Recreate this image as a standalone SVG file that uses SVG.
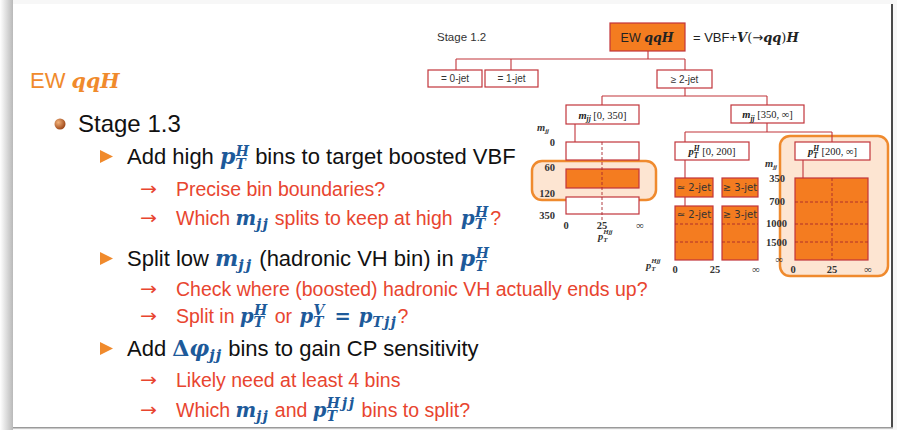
<svg xmlns="http://www.w3.org/2000/svg" width="897" height="430" viewBox="0 0 897 430">
<defs>
<linearGradient id="shadowL" x1="0" y1="0" x2="1" y2="0">
<stop offset="0" stop-color="#ffffff"/>
<stop offset="1" stop-color="#b9b9b9"/>
</linearGradient>
<radialGradient id="ball" cx="0.35" cy="0.35" r="0.7">
<stop offset="0" stop-color="#f3b27a"/>
<stop offset="1" stop-color="#9a4314"/>
</radialGradient>
<style>
.sans{font-family:"Liberation Sans",Arial,sans-serif}
.m{font-family:"DejaVu Serif",serif;font-style:italic;font-weight:bold;fill:#1d5a9a}
.mu{font-family:"DejaVu Serif",serif;font-weight:bold;fill:#1d5a9a}
.ar{font-family:"DejaVu Sans",sans-serif}
.red{fill:#e8452f}
.blk{fill:#111}
.box{fill:#ffffff;stroke:#c2353b;stroke-width:1.2}
.obox{fill:#f47c20;stroke:#c2353b;stroke-width:1.2}
.hl{fill:#fde5d2;stroke:#ef8a2e;stroke-width:2.5}
.conn{stroke:#c2353b;stroke-width:1.1;fill:none}
.dash{stroke:#a8282c;stroke-width:0.9;stroke-dasharray:3 2;fill:none}
.lbl{font-family:"Liberation Serif","Times New Roman",serif;font-size:10.5px;font-weight:bold;fill:#333}
.bt{font-family:"Liberation Sans",Arial,sans-serif;font-size:10px;fill:#333;text-anchor:middle}
.bs{font-family:"DejaVu Sans",sans-serif}
.bm{font-family:"Liberation Serif","Times New Roman",serif;font-size:10.5px;fill:#222;text-anchor:middle}
.bi{font-style:italic;font-weight:bold}
.dm{font-family:"DejaVu Serif",serif;font-style:italic;font-weight:bold}
.tri{fill:#f08a2c}
</style>
</defs>
<rect x="0" y="0" width="897" height="430" fill="#f7f7f7"/>
<rect x="0" y="0" width="13" height="430" fill="url(#shadowL)"/>
<rect x="13" y="4" width="878" height="424" fill="#ffffff"/>
<rect x="891" y="4" width="2" height="424" fill="#4a4a4a"/>
<rect x="13" y="427" width="880" height="1.5" fill="#9a9a9a"/>

<!-- Left slide text -->
<g id="title">
<text x="30" y="88" class="sans" font-size="22" fill="#f08a2c">EW <tspan class="m" font-size="20.5" style="fill:#f08a2c">qqH</tspan></text>
</g>
<g id="bullet-stage13">
<circle cx="60" cy="124" r="5.5" fill="url(#ball)"/>
<text x="78" y="132" class="sans blk" font-size="24">Stage 1.3</text>
</g>
<g id="item1">
<polygon class="tri" points="100,150 113,156.5 100,163"/>
<text x="127" y="164" class="sans blk" font-size="22">Add high <tspan class="m">p</tspan><tspan class="m" font-size="14" dy="5">T</tspan><tspan class="m" font-size="14" dx="-10" dy="-13">H</tspan><tspan dy="8"> bins to target boosted VBF</tspan></text>
<text x="140" y="195" class="ar red" font-size="18" textLength="17" lengthAdjust="spacingAndGlyphs">→</text>
<text x="176" y="196" class="sans red" font-size="19.5">Precise bin boundaries?</text>
<text x="140" y="224" class="ar red" font-size="18" textLength="17" lengthAdjust="spacingAndGlyphs">→</text>
<text x="176" y="225" class="sans red" font-size="19.5">Which <tspan class="m">m</tspan><tspan class="m" font-size="14" dy="4" letter-spacing="1.5">jj</tspan><tspan dy="-4"> splits to keep at high </tspan><tspan class="m" dx="3">p</tspan><tspan class="m" font-size="14" dy="4">T</tspan><tspan class="m" font-size="14" dx="-10" dy="-12">H</tspan><tspan dy="8" dx="2">?</tspan></text>
</g>
<g id="item2">
<polygon class="tri" points="100,252 113,258.5 100,265"/>
<text x="127" y="266" class="sans blk" font-size="22">Split low <tspan class="m">m</tspan><tspan class="m" font-size="15" dy="4" letter-spacing="2">jj</tspan><tspan dy="-4"> (hadronic VH bin) in </tspan><tspan class="m">p</tspan><tspan class="m" font-size="14" dy="5">T</tspan><tspan class="m" font-size="14" dx="-10" dy="-13">H</tspan></text>
<text x="140" y="295" class="ar red" font-size="18" textLength="17" lengthAdjust="spacingAndGlyphs">→</text>
<text x="176" y="296" class="sans red" font-size="19.5">Check where (boosted) hadronic VH actually ends up?</text>
<text x="140" y="322" class="ar red" font-size="18" textLength="17" lengthAdjust="spacingAndGlyphs">→</text>
<text x="176" y="323" class="sans red" font-size="19.5">Split in <tspan class="m">p</tspan><tspan class="m" font-size="14" dy="4">T</tspan><tspan class="m" font-size="14" dx="-10" dy="-12">H</tspan><tspan dy="8" dx="2"> or </tspan><tspan class="m" dx="2">p</tspan><tspan class="m" font-size="14" dy="4">T</tspan><tspan class="m" font-size="14" dx="-10" dy="-12">V</tspan><tspan dy="8" dx="10" class="mu">=</tspan><tspan class="m" dx="8">p</tspan><tspan class="m" font-size="14" dy="4" letter-spacing="1.5">Tjj</tspan><tspan dy="-4">?</tspan></text>
</g>
<g id="item3">
<polygon class="tri" points="100,342 113,348.5 100,355"/>
<text x="127" y="356" class="sans blk" font-size="22">Add <tspan class="mu">Δ</tspan><tspan class="m">φ</tspan><tspan class="m" font-size="15" dy="4" letter-spacing="1">jj</tspan><tspan dy="-4"> bins to gain CP sensitivity</tspan></text>
<text x="140" y="386" class="ar red" font-size="18" textLength="17" lengthAdjust="spacingAndGlyphs">→</text>
<text x="176" y="387" class="sans red" font-size="19.5">Likely need at least 4 bins</text>
<text x="140" y="416" class="ar red" font-size="18" textLength="17" lengthAdjust="spacingAndGlyphs">→</text>
<text x="176" y="417" class="sans red" font-size="19.5">Which <tspan class="m">m</tspan><tspan class="m" font-size="14" dy="4" letter-spacing="1.5">jj</tspan><tspan dy="-4"> and </tspan><tspan class="m">p</tspan><tspan class="m" font-size="14" dy="4">T</tspan><tspan class="m" font-size="14" dx="-10" dy="-13" letter-spacing="2">Hjj</tspan><tspan dy="9"> bins to split?</tspan></text>
</g>

<!-- Diagram -->
<text x="437" y="41" class="sans" font-size="11.5" fill="#333">Stage 1.2</text>

<g id="highlights">
<rect class="hl" x="532" y="161" width="124" height="39" rx="10"/>
<rect class="hl" x="780" y="136" width="108" height="140" rx="10"/>
</g>

<g id="connectors">
<path class="conn" d="M648 51V59M456 59H685M456 59V70M511 59V70M685 59V70"/>
<path class="conn" d="M685 88V96M602 96H767M602 96V105M767 96V105"/>
<path class="conn" d="M767 123V132M685 132H832M685 132V142M832 132V142"/>
<path class="conn" d="M575 124V142"/>
<path class="conn" d="M685 160V178M685 197V206"/>
<path class="conn" d="M803 160V178"/>
</g>

<g id="root">
<rect class="obox" x="610" y="23" width="75" height="28"/>
<text x="647" y="41.5" class="sans" font-size="12.5" fill="#222" text-anchor="middle">EW <tspan class="dm">qqH</tspan></text>
</g>
<text x="693" y="42" class="sans" font-size="13" fill="#222">= VBF+<tspan class="dm">V</tspan><tspan font-family="DejaVu Serif, serif">(</tspan><tspan class="bs">→</tspan><tspan class="dm">qq</tspan><tspan font-family="DejaVu Serif, serif">)</tspan><tspan class="dm">H</tspan></text>

<g id="jet0"><rect class="box" x="428" y="70" width="54" height="17"/><text class="bt" x="455" y="82">= 0-jet</text></g>
<g id="jet1"><rect class="box" x="485" y="70" width="53" height="17"/><text class="bt" x="511.5" y="82">= 1-jet</text></g>
<g id="jet2"><rect class="box" x="657" y="70" width="55" height="18"/><text class="bt" x="684.5" y="83">≥ 2-jet</text></g>

<g id="mjj-low"><rect class="box" x="566" y="105" width="73" height="19"/><text class="bm" x="602.5" y="118.5"><tspan class="bi">m</tspan><tspan class="bi" font-size="7.5" dy="2.5">jj</tspan><tspan dy="-2.5"> [0, 350]</tspan></text></g>
<g id="mjj-high"><rect class="box" x="731" y="105" width="73" height="18"/><text class="bm" x="767.5" y="118"><tspan class="bi">m</tspan><tspan class="bi" font-size="7.5" dy="2.5">jj</tspan><tspan dy="-2.5"> [350, ∞]</tspan></text></g>
<g id="pth-low"><rect class="box" x="675" y="142" width="74" height="18"/><text class="bm" x="712" y="155"><tspan class="bi">p</tspan><tspan class="bi" font-size="7.5" dy="2.5">T</tspan><tspan class="bi" font-size="7.5" dx="-4.6" dy="-7">H</tspan><tspan dy="4.5"> [0, 200]</tspan></text></g>
<g id="pth-high"><rect class="box" x="795" y="142" width="75" height="18"/><text class="bm" x="832.5" y="155"><tspan class="bi">p</tspan><tspan class="bi" font-size="7.5" dy="2.5">T</tspan><tspan class="bi" font-size="7.5" dx="-4.6" dy="-7">H</tspan><tspan dy="4.5"> [200, ∞]</tspan></text></g>

<g id="chart-low">
<rect class="box" x="566" y="142" width="73" height="18"/>
<rect class="obox" x="566" y="169" width="73" height="19"/>
<rect class="box" x="566" y="197" width="73" height="17"/>
<path class="dash" d="M602 142V220"/>
<text class="lbl" x="537" y="131" font-style="italic">m<tspan font-size="7" dy="2">jj</tspan></text>
<text class="lbl" x="555" y="146" text-anchor="end">0</text>
<text class="lbl" x="555" y="171" text-anchor="end">60</text>
<text class="lbl" x="555" y="197" text-anchor="end">120</text>
<text class="lbl" x="555" y="219" text-anchor="end">350</text>
<text class="lbl" x="566" y="229" text-anchor="middle">0</text>
<text class="lbl" x="602" y="229" text-anchor="middle">25</text>
<text class="lbl" x="640" y="229" text-anchor="middle" font-size="13">∞</text>
<text class="lbl" x="598" y="240" font-style="italic">p<tspan font-size="7" dy="2">T</tspan><tspan font-size="7" dx="-4.3" dy="-8">Hjj</tspan></text>
</g>

<g id="chart-mid">
<rect class="obox" x="675" y="178" width="38" height="19"/>
<text class="bt bs" x="694" y="191" font-size="8.5">≃ 2-jet</text>
<rect class="obox" x="722" y="178" width="36" height="19"/>
<text class="bt bs" x="740" y="191" font-size="8.5">≳ 3-jet</text>
<rect class="obox" x="675" y="206" width="38" height="54"/>
<text class="bt bs" x="694" y="218" font-size="8.5">≃ 2-jet</text>
<rect class="obox" x="722" y="206" width="36" height="54"/>
<text class="bt bs" x="740" y="218" font-size="8.5">≳ 3-jet</text>
<path class="dash" d="M675 224H713M675 242H713M722 224H758M722 242H758"/>
<text class="lbl" x="646" y="269" font-style="italic">p<tspan font-size="7" dy="2">T</tspan><tspan font-size="7" dx="-4.3" dy="-8">Hjj</tspan></text>
<text class="lbl" x="675" y="273" text-anchor="middle">0</text>
<text class="lbl" x="715" y="273" text-anchor="middle">25</text>
<text class="lbl" x="756" y="273" text-anchor="middle" font-size="13">∞</text>
</g>

<g id="chart-high">
<rect class="obox" x="795" y="178" width="73" height="82"/>
<path class="dash" d="M795 202H868M795 224H868M795 242H868M832 178V260"/>
<text class="lbl" x="765" y="167" font-style="italic">m<tspan font-size="7" dy="2">jj</tspan></text>
<text class="lbl" x="785" y="182" text-anchor="end">350</text>
<text class="lbl" x="785" y="205" text-anchor="end">700</text>
<text class="lbl" x="787" y="227" text-anchor="end">1000</text>
<text class="lbl" x="787" y="246" text-anchor="end">1500</text>
<text class="lbl" x="783" y="263" text-anchor="end" font-size="13">∞</text>
<text class="lbl" x="793" y="273" text-anchor="middle">0</text>
<text class="lbl" x="832" y="273" text-anchor="middle">25</text>
<text class="lbl" x="868" y="273" text-anchor="middle" font-size="13">∞</text>
</g>
</svg>
